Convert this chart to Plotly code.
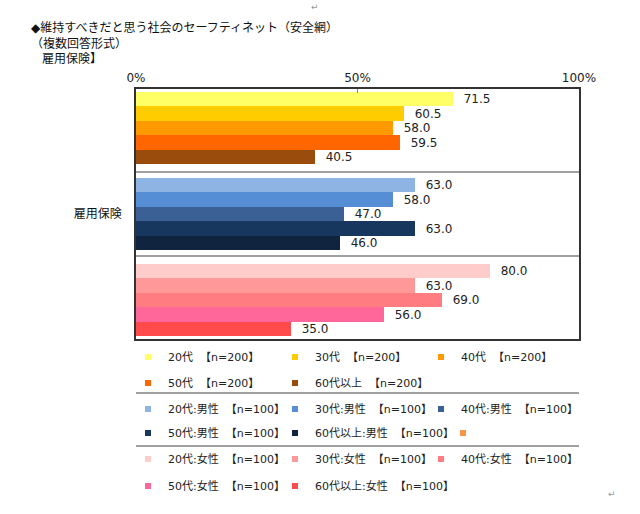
import plotly.graph_objects as go

# ---- data ----
age_groups = ["20代", "30代", "40代", "50代", "60代以上"]
values_all = [71.5, 60.5, 58.0, 59.5, 40.5]
values_male = [63.0, 58.0, 47.0, 63.0, 46.0]
values_female = [80.0, 63.0, 69.0, 56.0, 35.0]
n_all = 200
n_male = 100
n_female = 100
category_label = "雇用保険"
tick_values = [0, 50, 100]
tick_labels = ["0%", "50%", "100%"]

colors_all = ["#FFFF66", "#FFCC00", "#FF9900", "#FF6600", "#994C0C"]
colors_male = ["#8DB4E2", "#558ED5", "#3A6096", "#17375E", "#10243F"]
colors_female = ["#FFCCCC", "#FF9999", "#FF7C80", "#FF6699", "#FF4B4B"]

FONT = "DejaVu Sans, Noto Sans CJK JP, sans-serif"

W, H = 640, 514
L, R, T, B = 136, 579, 89, 339
PW, PH = R - L, B - T

def px_to_paper_x(px):
    return (px - L) / PW

def px_to_paper_y(py):
    return (B - py) / PH

group_offsets = [0.71, 6.68, 12.65]
groups = [
    (values_all, colors_all, [f"{a}  【n={n_all}】" for a in age_groups]),
    (values_male, colors_male, [f"{a}:男性  【n={n_male}】" for a in age_groups]),
    (values_female, colors_female, [f"{a}:女性  【n={n_female}】" for a in age_groups]),
]

row_py = [357, 383, 409, 433, 459, 486]
col_px = [128, 275, 421]

legend_layout = {}
legend_count = [0]

def new_legend(row, x_px):
    legend_count[0] += 1
    lid = "legend" if legend_count[0] == 1 else f"legend{legend_count[0]}"
    legend_layout[lid] = dict(
        orientation="h", x=px_to_paper_x(x_px), xanchor="left",
        y=px_to_paper_y(row_py[row]), yanchor="middle",
        font=dict(family=FONT, size=11, color="#222"),
        bgcolor="rgba(0,0,0,0)", borderwidth=0,
        itemclick=False, itemdoubleclick=False,
    )
    return lid

fig = go.Figure()
for g, (vals, cols, names) in enumerate(groups):
    for i, (v, c, nm) in enumerate(zip(vals, cols, names)):
        lg = f"g{g}_{i}"
        fig.add_trace(go.Bar(
            x=[v], y=[group_offsets[g] + i], orientation="h",
            width=1.0, marker=dict(color=c, line=dict(width=0)),
            text=[f"  {v:.1f}"], textposition="outside", cliponaxis=False,
            textfont=dict(family=FONT, size=12, color="#222"),
            showlegend=False, legendgroup=lg, name=nm,
        ))
        row = g * 2 + (0 if i < 3 else 1)
        col = i % 3
        fig.add_trace(go.Scatter(
            x=[None], y=[None], mode="markers",
            marker=dict(symbol="square", size=6, color=c),
            name=nm, legendgroup=lg, legend=new_legend(row, col_px[col]),
        ))
# the empty orange legend entry in the male rows
fig.add_trace(go.Scatter(
    x=[None], y=[None], mode="markers",
    marker=dict(symbol="square", size=6, color="#F79646"),
    name=" ", legend=new_legend(3, 443),
))

shapes = []
for sy in [5.76, 11.6]:
    shapes.append(dict(type="line", xref="paper", x0=0, x1=1, yref="y", y0=sy, y1=sy,
                       line=dict(color="#808080", width=1.5), layer="above"))
for py in [393, 446]:
    shapes.append(dict(type="line", xref="paper", x0=0, x1=1, yref="paper",
                       y0=px_to_paper_y(py), y1=px_to_paper_y(py),
                       line=dict(color="#808080", width=1.5)))

title_lines = [
    ("◆維持すべきだと思う社会のセーフティネット（安全網）", 29, 27),
    ("（複数回答形式）", 29, 43),
    ("雇用保険】", 40, 59),
]
annotations = []
for txt, x, y in title_lines:
    annotations.append(dict(text=txt, xref="paper", yref="paper",
                            x=px_to_paper_x(x), y=px_to_paper_y(y),
                            xanchor="left", yanchor="middle", showarrow=False,
                            font=dict(family=FONT, size=12, color="#111")))
for x, y in [(315, 7), (612, 494)]:
    annotations.append(dict(text="↵", xref="paper", yref="paper",
                            x=px_to_paper_x(x), y=px_to_paper_y(y),
                            xanchor="center", yanchor="middle", showarrow=False,
                            font=dict(family=FONT, size=9, color="#999")))

fig.update_layout(
    width=W, height=H,
    margin=dict(l=L, r=W - R, t=T, b=H - B, autoexpand=False),
    paper_bgcolor="white", plot_bgcolor="white",
    barmode="overlay", bargap=0,
    font=dict(family=FONT, size=12, color="#222"),
    xaxis=dict(range=[0, 100], side="top", tickvals=tick_values, ticktext=tick_labels,
               showgrid=False, zeroline=False, showline=True, mirror=True,
               linecolor="#333", linewidth=1.5, ticks="inside", ticklen=4,
               tickcolor="#888", tickfont=dict(family=FONT, size=12, color="#222"),
               automargin=False),
    yaxis=dict(range=[17.36, 0], tickvals=[8.7], ticktext=[category_label],
               showgrid=False, zeroline=False, showline=True, mirror=True,
               linecolor="#333", linewidth=1.5, ticks="", ticklabelstandoff=10,
               tickfont=dict(family=FONT, size=12, color="#111"), automargin=False),
    shapes=shapes, annotations=annotations,
    **legend_layout,
)

fig.write_html("out.html", config={"displayModeBar": False},
               post_script="document.body.style.margin='0';")
